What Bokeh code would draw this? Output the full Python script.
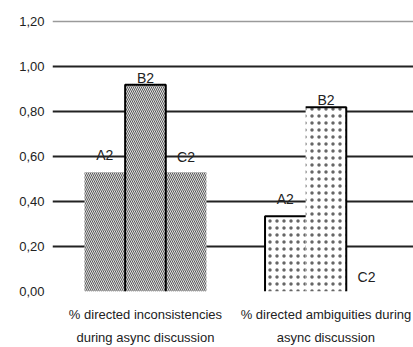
from bokeh.plotting import figure
from bokeh.models import FixedTicker, LinearAxis, Range1d, ColumnDataSource, Grid
from bokeh.core.properties import value
from bokeh.embed import file_html
from bokeh.resources import INLINE

# ---- data ----
categories_line1 = ["% directed inconsistencies", "% directed ambiguities during"]
categories_line2 = ["during async discussion", "async discussion"]
series = ["A2", "B2", "C2"]
inconsistencies = [0.53, 0.92, 0.53]
ambiguities = [0.335, 0.82, 0.0]
y_ticks = [0.0, 0.2, 0.4, 0.6, 0.8, 1.0, 1.2]
y_tick_labels = ["0,00", "0,20", "0,40", "0,60", "0,80", "1,00", "1,20"]

# ---- styles ----
FONT = "Liberation Sans"
bar_w = 0.225
label_lift = [17, 7, 15]   # px above bar top for A2, B2, C2 labels

group_pos = [i + 0.5 for i in range(len(categories_line1))]

p = figure(width=413, height=347, x_range=Range1d(-0.015, 1.985), y_range=Range1d(0, 1.21),
           output_backend="svg", toolbar_location=None,
           min_border_left=52, min_border_right=0, min_border_top=19, min_border_bottom=0)
p.outline_line_color = None
p.background_fill_color = "white"
p.xgrid.visible = False
p.ygrid.ticker = FixedTicker(ticks=[t for t in y_ticks if 0 < t < y_ticks[-1]])
p.ygrid.grid_line_color = "#222222"
p.ygrid.grid_line_width = 2
top_grid = Grid(dimension=1, ticker=FixedTicker(ticks=[y_ticks[-1]]),
                grid_line_color="#9a9a9a", grid_line_width=1.5)
p.add_layout(top_grid)

# y axis
ya = p.yaxis[0]
ya.ticker = FixedTicker(ticks=y_ticks)
ya.major_label_overrides = dict(zip(y_ticks, y_tick_labels))
ya.axis_line_color = None
ya.major_tick_line_color = None
ya.minor_tick_line_color = None
ya.major_tick_out = 0
ya.major_tick_in = 0
ya.major_label_standoff = 8
ya.major_label_text_font = FONT
ya.major_label_text_font_size = "13px"
ya.major_label_text_color = "#222222"

# x axes (two lines of category labels)
def style_xaxis(ax, labels, standoff):
    ax.ticker = FixedTicker(ticks=group_pos)
    ax.major_label_overrides = dict(zip(group_pos, labels))
    ax.axis_line_color = None
    ax.major_tick_line_color = None
    ax.minor_tick_line_color = None
    ax.major_tick_out = 0
    ax.major_tick_in = 0
    ax.minor_tick_out = 0
    ax.major_label_standoff = standoff
    ax.major_label_text_font = FONT
    ax.major_label_text_font_size = "13px"
    ax.major_label_text_color = "#222222"

style_xaxis(p.xaxis[0], categories_line1, 15)
ax2 = LinearAxis()
style_xaxis(ax2, categories_line2, 5)
p.add_layout(ax2, "below")

offsets = [(j - 1) * bar_w for j in range(len(series))]

# group 1 bars: hatched
g1_x = [group_pos[0] + o for o in offsets]
src1 = ColumnDataSource(dict(x=g1_x, top=inconsistencies))
p.vbar(x="x", top="top", bottom=0, width=bar_w, source=src1,
       fill_color="#e2e2e2", line_color=None,
       hatch_pattern="left_diagonal_line", hatch_scale=4, hatch_weight=1, hatch_color="#5a5a5a")

# outline of the middle bar of group 1
bl = g1_x[1] - bar_w / 2
br = g1_x[1] + bar_w / 2
p.line(x=[bl, bl, br, br], y=[0, inconsistencies[1], inconsistencies[1], 0],
       line_color="black", line_width=2)

# group 2 bars: dotted
g2_x = [group_pos[1] + o for o in offsets]
src2 = ColumnDataSource(dict(x=g2_x, top=ambiguities))
p.vbar(x="x", top="top", bottom=0, width=bar_w, source=src2,
       fill_color="white", line_color=None,
       hatch_pattern="dot", hatch_scale=7, hatch_weight=0.6, hatch_color="#666666")

al = g2_x[0] - bar_w / 2
ar = g2_x[0] + bar_w / 2
b2l = g2_x[1] - bar_w / 2
b2r = g2_x[1] + bar_w / 2
p.multi_line(xs=[[al, al, ar], [b2l, b2r, b2r]],
             ys=[[0, ambiguities[0], ambiguities[0]], [ambiguities[1], ambiguities[1], 0]],
             line_color="black", line_width=2)

# series labels above bars
lab = ColumnDataSource(dict(
    x=g1_x + g2_x,
    y=inconsistencies + ambiguities,
    t=series + series,
    off=[-v for v in label_lift] * 2,
))
p.text(x="x", y="y", text="t", y_offset="off", source=lab,
       text_align="center", text_baseline="alphabetic",
       text_font=value(FONT), text_font_size="14px", text_color="#222222")

open("out.html", "w").write(file_html(p, INLINE))
